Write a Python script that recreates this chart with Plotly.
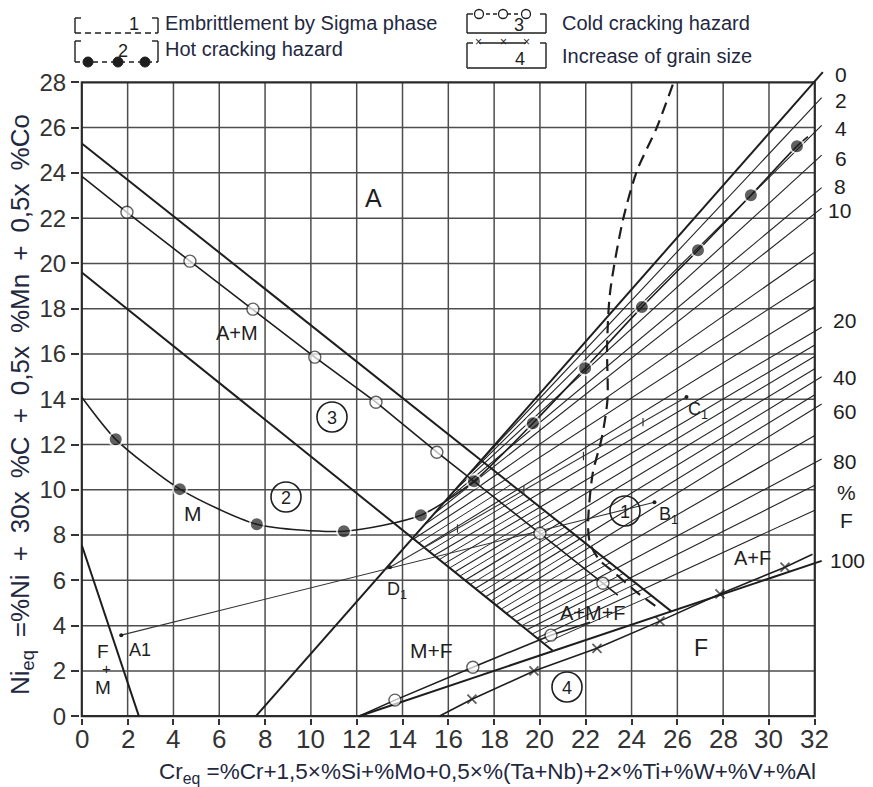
import plotly.graph_objects as go

# ---------------- data ----------------
x_ticks = list(range(0, 33, 2))
y_ticks = list(range(0, 29, 2))

# phase boundary lines (Cr_eq, Ni_eq)
am_a_x = [0.0, 25.75]     # A / A+M boundary
am_a_y = [25.3, 4.62]
m_am_x = [0.0, 20.55]     # M / A+M boundary
m_am_y = [19.6, 2.90]
f0_x = [7.6, 32.35]       # 0 % ferrite
f0_y = [0.0, 28.45]
f100_x = [12.1, 32.3]     # 100 % ferrite
f100_y = [0.0, 6.86]
mf_x = [0.0, 2.49]        # M / M+F boundary
mf_y = [7.55, 0.0]

# iso-ferrite lines (start on boundary -> right edge)
iso_x0 = [17.2, 16.75, 16.3, 15.85, 15.4, 14.95, 14.5, 14.95, 15.4, 15.85,
          16.3, 16.75, 17.2, 17.65, 18.1, 18.55, 19.0, 19.45, 19.9]
iso_y0 = [11.03, 10.52, 10.0, 9.48, 8.96, 8.45, 7.84, 7.48, 7.11, 6.75,
          6.38, 6.02, 5.65, 5.29, 4.92, 4.56, 4.19, 3.83, 3.46]
iso_x1 = [32.3, 32.3, 32.3, 32.3, 32.3, 32.0, 32.0, 32.0, 32.3, 32.0,
          32.0, 32.0, 32.3, 32.0, 32.3, 32.0, 32.3, 32.0, 32.0]
iso_y1 = [27.32, 26.10, 24.78, 23.35, 22.44, 20.5, 19.3, 18.1, 17.18, 16.4,
          15.9, 15.35, 14.99, 14.2, 13.79, 12.4, 11.36, 10.2, 9.1]

# additional hatch lines inside the A+M+F band
hatch_x0 = [14.725, 15.175, 15.625, 16.075, 16.525, 16.975, 17.425, 17.875,
            18.325, 18.775, 19.225, 19.675, 20.2]
hatch_y0 = [7.66, 7.29, 6.93, 6.56, 6.20, 5.83, 5.47, 5.10, 4.74, 4.37,
            4.01, 3.64, 3.22]
hatch_x1 = [18.77, 19.31, 19.80, 20.25, 20.67, 21.11, 21.54, 22.0, 22.51,
            23.08, 23.67, 24.23, 24.9]
hatch_y1 = [10.25, 9.81, 9.42, 9.06, 8.72, 8.37, 8.03, 7.66, 7.25, 6.79,
            6.32, 5.87, 5.33]

# right-hand ferrite % labels
ferrite_labels = ["0", "2", "4", "6", "8", "10", "20", "40", "60", "80", "100"]

# hazard curves
hot_x = [0.0, 1.48, 4.28, 7.64, 11.44, 14.8, 17.12, 19.69, 21.97, 24.45, 26.9, 29.21, 31.22, 31.7]
hot_y = [14.09, 12.23, 10.03, 8.48, 8.17, 8.88, 10.38, 12.94, 15.37, 18.07, 20.58, 23.01, 25.18, 25.6]
cold_x = [0.0, 1.97, 4.72, 7.47, 10.17, 12.84, 15.5, 20.0, 22.75, 23.4]
cold_y = [23.85, 22.26, 20.1, 17.98, 15.86, 13.87, 11.66, 8.08, 5.87, 5.35]
cold_low_x = [12.1, 13.67, 17.07, 20.48, 22.18]
cold_low_y = [0.0, 0.71, 2.16, 3.58, 4.15]
grain_x = [15.6, 17.03, 19.74, 22.49, 25.24, 27.86, 30.7, 31.9]
grain_y = [0.0, 0.75, 2.0, 3.0, 4.2, 5.4, 6.58, 7.15]
sigma_x = [25.8, 25.1, 24.24, 23.62, 23.06, 22.93, 22.95, 22.7, 22.3, 22.1, 22.2, 22.6, 23.3, 24.2, 25.2]
sigma_y = [27.9, 26.0, 24.1, 21.9, 18.7, 16.3, 14.0, 12.3, 10.7, 8.35, 7.6, 6.9, 6.3, 5.5, 4.75]

# dilution example lines
a1b1_x = [1.72, 25.0]
a1b1_y = [3.58, 9.45]
d1c1_x = [13.45, 26.4]
d1c1_y = [6.58, 14.1]
d1c1_tick_x = [16.4, 19.3, 21.9, 24.5]
d1c1_tick_y = [8.29, 9.98, 11.49, 12.99]
pts_x = [1.72, 13.45, 25.0, 26.4]
pts_y = [3.58, 6.58, 9.45, 14.1]

# ---------------- geometry helpers (pixel layout) ----------------
W, H = 873, 787
ML, MR, MT, MB = 80, 44, 71, 69
PW, PH = W - ML - MR, H - MT - MB
XR = [-0.08, 32.62]
YR = [-0.08, 28.5]


def px_x(px):
    return (px - ML) / PW


def px_y(py):
    return (H - MB - py) / PH


def dx(px):   # pixel -> data x
    return XR[0] + (px - ML) / PW * (XR[1] - XR[0])


def dy(py):   # pixel -> data y
    return YR[0] + (H - MB - py) / PH * (YR[1] - YR[0])


INK = "#1e1e1e"
TXT = "#23283f"
FONT = "Liberation Sans, Arial, sans-serif"

fig = go.Figure()


def segs(x0s, y0s, x1s, y1s, width, color=INK):
    xs, ys = [], []
    for a, b, c, d in zip(x0s, y0s, x1s, y1s):
        xs += [a, c, None]
        ys += [b, d, None]
    fig.add_trace(go.Scatter(x=xs, y=ys, mode="lines", line=dict(color=color, width=width),
                             hoverinfo="skip", showlegend=False))


# hatch & iso-ferrite lines
segs(hatch_x0, hatch_y0, hatch_x1, hatch_y1, 1.0, "#2a2a2a")
segs(iso_x0, iso_y0, iso_x1, iso_y1, 1.1, "#222")

# boundary lines
for bx, by in [(am_a_x, am_a_y), (m_am_x, m_am_y), (f0_x, f0_y), (f100_x, f100_y), (mf_x, mf_y)]:
    fig.add_trace(go.Scatter(x=bx, y=by, mode="lines", line=dict(color=INK, width=2),
                             hoverinfo="skip", showlegend=False))

# dilution lines
fig.add_trace(go.Scatter(x=a1b1_x, y=a1b1_y, mode="lines", line=dict(color="#333", width=1.1),
                         hoverinfo="skip", showlegend=False))
fig.add_trace(go.Scatter(x=d1c1_x, y=d1c1_y, mode="lines", line=dict(color="#333", width=1.1),
                         hoverinfo="skip", showlegend=False))
fig.add_trace(go.Scatter(x=d1c1_tick_x, y=d1c1_tick_y, mode="markers",
                         marker=dict(symbol="line-ns", size=6, line=dict(color="#333", width=1.2)),
                         hoverinfo="skip", showlegend=False))
fig.add_trace(go.Scatter(x=pts_x, y=pts_y, mode="markers",
                         marker=dict(symbol="circle", size=4, color=INK),
                         hoverinfo="skip", showlegend=False))

# sigma phase (dashed)
fig.add_trace(go.Scatter(x=sigma_x, y=sigma_y, mode="lines",
                         line=dict(color=INK, width=2.2, dash="12px,7px", shape="spline", smoothing=0.8),
                         hoverinfo="skip", showlegend=False))

# hot cracking (filled dots)
fig.add_trace(go.Scatter(x=hot_x, y=hot_y, mode="lines+markers",
                         line=dict(color=INK, width=1.6, shape="spline", smoothing=0.7),
                         marker=dict(symbol="circle", size=[0] + [14] * (len(hot_x) - 2) + [0],
                                     color=INK, line=dict(color="white", width=2)),
                         hoverinfo="skip", showlegend=False))

# cold cracking (open circles)
for cx, cy in [(cold_x, cold_y), (cold_low_x, cold_low_y)]:
    fig.add_trace(go.Scatter(x=cx, y=cy, mode="lines+markers",
                             line=dict(color=INK, width=1.6),
                             marker=dict(symbol="circle", size=[0] + [12] * (len(cx) - 2) + [0],
                                         color="white", line=dict(color=INK, width=1.4)),
                             hoverinfo="skip", showlegend=False))

# grain size (x markers)
fig.add_trace(go.Scatter(x=grain_x, y=grain_y, mode="lines+markers",
                         line=dict(color=INK, width=1.6),
                         marker=dict(symbol="x-thin", size=[0] + [9] * (len(grain_x) - 2) + [0],
                                     line=dict(color=INK, width=1.8)),
                         hoverinfo="skip", showlegend=False))

shapes = []
# grid
for xv in x_ticks[1:-1]:
    shapes.append(dict(type="line", xref="x", yref="y", x0=xv, x1=xv, y0=0, y1=28,
                       line=dict(color="#4d4d4d", width=1.5), layer="below"))
for yv in y_ticks[1:-1]:
    shapes.append(dict(type="line", xref="x", yref="y", x0=0, x1=32, y0=yv, y1=yv,
                       line=dict(color="#4d4d4d", width=1.5), layer="below"))
shapes.append(dict(type="rect", xref="x", yref="y", x0=0, x1=32, y0=0, y1=28,
                   line=dict(color="#2a2a2a", width=2.2), layer="below"))

annotations = []


def ann(text, xp, yp, size, color=INK, xanchor="center", **kw):
    annotations.append(dict(x=px_x(xp), y=px_y(yp), xref="paper", yref="paper", text=text,
                            xanchor=xanchor, yanchor="middle", showarrow=False,
                            font=dict(size=size, color=color, family=FONT), **kw))


# x tick labels (placed just under the axis, as in the reference)
for xv in x_ticks:
    annotations.append(dict(x=xv, y=px_y(739), xref="x", yref="paper", text=str(xv),
                            xanchor="center", yanchor="middle", showarrow=False,
                            font=dict(size=26, color="#333", family=FONT)))

# numbered circles
circ_num = ["1", "2", "3", "4"]
circ_px = [(625, 511), (286, 497), (332, 417), (567, 687)]
for n, (cxp, cyp) in zip(circ_num, circ_px):
    shapes.append(dict(type="circle", xref="paper", yref="paper",
                       x0=px_x(cxp - 15), x1=px_x(cxp + 15), y0=px_y(cyp + 15), y1=px_y(cyp - 15),
                       line=dict(color=INK, width=1.6)))
    ann(n, cxp, cyp + 1, 18)


def pl(x0, y0, x1, y1, dash=None, width=1.4):
    d = dict(type="line", xref="paper", yref="paper", x0=px_x(x0), y0=px_y(y0),
             x1=px_x(x1), y1=px_y(y1), line=dict(color=INK, width=width))
    if dash:
        d["line"]["dash"] = dash
    shapes.append(d)


def bracket(xl, xr, yt, yb):
    pl(xl, yt, xl, yb)
    pl(xl, yt, xl + 6, yt)
    pl(xr, yt, xr, yb)
    pl(xr - 6, yt, xr, yt)


# legend box 1 (sigma)
bracket(75, 158, 18, 33)
pl(75, 33, 158, 33, dash="6px,4px")
# legend box 2 (hot cracking)
bracket(75, 158, 41, 62)
pl(75, 62, 158, 62, dash="5px,4px")
for xd in [88, 118, 145]:
    shapes.append(dict(type="circle", xref="paper", yref="paper", fillcolor=INK,
                       x0=px_x(xd - 5), x1=px_x(xd + 5), y0=px_y(62 + 5), y1=px_y(62 - 5),
                       line=dict(color=INK, width=1)))
# legend box 3 (cold cracking)
bracket(467, 546, 14, 33)
pl(467, 33, 546, 33)
pl(479, 14, 526, 14, dash="4px,3px")
for xd in [479, 503, 526]:
    shapes.append(dict(type="circle", xref="paper", yref="paper", fillcolor="white",
                       x0=px_x(xd - 4.5), x1=px_x(xd + 4.5), y0=px_y(14 + 4.5), y1=px_y(14 - 4.5),
                       line=dict(color=INK, width=1.3)))
# legend box 4 (grain size)
bracket(467, 546, 43, 68)
pl(467, 68, 546, 68)
pl(479, 43, 526, 43)

leg_num = [("1", 134, 24), ("2", 123, 51), ("3", 519, 25), ("4", 520, 59)]
for t, xp, yp in leg_num:
    ann(t, xp, yp, 18)
for xp in [479, 503, 526]:
    ann("×", xp, 42, 12)

leg_text = [("Embrittlement by Sigma phase", 163, 23), ("Hot cracking hazard", 163, 49),
            ("Cold cracking hazard", 560, 23), ("Increase of grain size", 560, 56)]
for t, xp, yp in leg_text:
    ann(t, xp, yp, 20, color=TXT, xanchor="left")

# right hand ferrite labels
lab_px = [(833, 75), (833, 100), (833, 128), (833, 158), (832, 186), (826, 211),
          (831, 320), (831, 377), (831, 411), (831, 462), (828, 560)]
for t, (xp, yp) in zip(ferrite_labels, lab_px):
    ann(t, xp, yp, 21, xanchor="left")
ann("%", 846, 493, 21)
ann("F", 846, 520, 21)

# region labels
regions = [("A", 373, 198, 25), ("A+M", 237, 333, 20), ("M", 193, 513, 21), ("M+F", 431, 650, 21),
           ("F", 701, 648, 23), ("A+F", 752, 558, 20), ("A+M+F", 593, 613, 20),
           ("F", 103, 651, 19), ("+", 106, 668, 15), ("M", 103, 687, 19),
           ("A1", 140, 650, 18), ("D<sub>1</sub>", 397, 590, 18), ("C<sub>1</sub>", 698, 410, 18),
           ("B<sub>1</sub>", 668, 515, 18)]
for t, xp, yp, fs in regions:
    annotations.append(dict(x=dx(xp), y=dy(yp), xref="x", yref="y", text=t, showarrow=False,
                            xanchor="center", yanchor="middle",
                            font=dict(size=fs, color=INK, family=FONT)))

# axis titles
SP = "\u2002"
ytitle = ("Ni<sub>eq</sub>" + SP + "=%Ni" + SP + "+" + SP + "30x" + SP + "%C" + SP + "+" + SP +
          "0,5x" + SP + "%Mn" + SP + "+" + SP + "0,5x" + SP + "%Co")
ann(ytitle, 22, 405, 26, color=TXT, textangle=-90)
ann("Cr<sub>eq</sub> =%Cr+1,5×%Si+%Mo+0,5×%(Ta+Nb)+2×%Ti+%W+%V+%Al", 487, 773, 22.5, color=TXT)

fig.update_layout(
    width=W, height=H, autosize=False,
    margin=dict(l=ML, r=MR, t=MT, b=MB),
    paper_bgcolor="white", plot_bgcolor="white",
    showlegend=False,
    shapes=shapes, annotations=annotations,
    xaxis=dict(range=XR, tickvals=x_ticks, showticklabels=False,
               ticks="outside", ticklen=6, tickwidth=1.5, tickcolor="#333",
               showgrid=False, zeroline=False, showline=False),
    yaxis=dict(range=YR, tickvals=y_ticks, ticktext=[str(v) for v in y_ticks],
               ticks="outside", ticklen=8, tickwidth=1.5, tickcolor="#333",
               showgrid=False, zeroline=False, showline=False,
               tickfont=dict(size=24, color="#333", family=FONT)),
)

fig.write_html("out.html", config={"displayModeBar": False},
               post_script="document.body.style.margin='0';")
